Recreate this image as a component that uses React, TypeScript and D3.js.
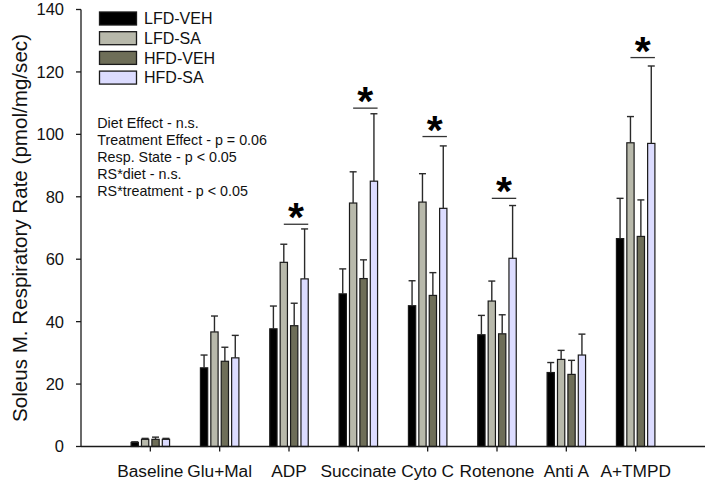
import React from "react";
import * as d3 from "d3";

const categories = ["Baseline", "Glu+Mal", "ADP", "Succinate", "Cyto C", "Rotenone", "Anti A", "A+TMPD"];
const seriesNames = ["LFD-VEH", "LFD-SA", "HFD-VEH", "HFD-SA"];
const seriesColors = ["#000000", "#b8b9ab", "#6e6e58", "#dcdcff"];

const lfdVeh = [1.3, 25.2, 37.7, 48.9, 45.1, 35.8, 23.7, 66.6];
const lfdVehErr = [1.5, 29.3, 45.0, 56.9, 53.1, 42.0, 26.9, 79.5];
const lfdSa = [2.3, 36.7, 59.0, 78.0, 78.3, 46.6, 27.9, 97.3];
const lfdSaErr = [2.6, 41.8, 64.8, 88.0, 87.4, 53.0, 30.8, 105.7];
const hfdVeh = [2.3, 27.3, 38.7, 53.8, 48.4, 36.1, 23.1, 67.3];
const hfdVehErr = [3.0, 31.8, 45.9, 59.8, 55.7, 42.2, 27.6, 79.0];
const hfdSa = [2.3, 28.4, 53.7, 85.0, 76.3, 60.3, 29.3, 97.1];
const hfdSaErr = [2.6, 35.6, 69.7, 106.6, 96.3, 77.2, 36.0, 121.9];

const starCategories = ["ADP", "Succinate", "Cyto C", "Rotenone", "A+TMPD"];
const starLevels = [71.2, 108.4, 99.3, 79.5, 124.6];

const yTicks = [0, 20, 40, 60, 80, 100, 120, 140];
const statsLines = [
  "Diet Effect - n.s.",
  "Treatment Effect - p = 0.06",
  "Resp. State - p < 0.05",
  "RS*diet - n.s.",
  "RS*treatment - p < 0.05",
];

const seriesValues = [lfdVeh, lfdSa, hfdVeh, hfdSa];
const seriesErrs = [lfdVehErr, lfdSaErr, hfdVehErr, hfdSaErr];

const W = 709;
const H = 484;
const FONT = "Liberation Sans, Arial, Helvetica, sans-serif";

export default function App() {
  const x = d3.scaleLinear().domain([0, categories.length + 1]).range([81, 705]);
  const y = d3.scaleLinear().domain([0, 140]).range([446.5, 9.5]);
  const pitch = 0.15;
  const bw = 0.105;
  const off = (i: number) => (i - 1.5) * pitch;
  const capHalf = 3.5;

  return (
    <svg width={W} height={H} style={{ position: "absolute", left: 0, top: 0, background: "#fff" }} fontFamily={FONT}>
      {/* bars */}
      {seriesValues.map((vals, s) =>
        vals.map((v, c) => {
          const cx = c + 1 + off(s);
          const x0 = x(cx - bw / 2);
          const x1 = x(cx + bw / 2);
          return (
            <rect key={`b${s}-${c}`} x={x0} y={y(v)} width={x1 - x0} height={y(0) - y(v)}
              fill={seriesColors[s]} stroke="#1a1a1a" strokeWidth={1.2} />
          );
        })
      )}
      {/* error bars */}
      {seriesErrs.map((errs, s) =>
        errs.map((e, c) => {
          const px = x(c + 1 + off(s));
          return (
            <g key={`e${s}-${c}`} stroke="#2a2a2a" strokeWidth={1.4}>
              <line x1={px} x2={px} y1={y(seriesValues[s][c])} y2={y(e)} />
              <line x1={px - capHalf} x2={px + capHalf} y1={y(e)} y2={y(e)} />
            </g>
          );
        })
      )}
      {/* significance */}
      {starCategories.map((cat, k) => {
        const c = categories.indexOf(cat) + 1;
        const xa = x(c + off(1));
        const xb = x(c + off(3) + bw / 2);
        const ly = y(starLevels[k]);
        return (
          <g key={`s${k}`}>
            <line x1={xa} x2={xb} y1={ly} y2={ly} stroke="#333" strokeWidth={1.3} />
            <text x={(xa + xb) / 2} y={ly + 7} textAnchor="middle" fontSize={41} fontWeight="bold" fill="#000">*</text>
          </g>
        );
      })}
      {/* axes */}
      <line x1={x(0)} x2={x(0)} y1={y(140)} y2={y(0)} stroke="#1a1a1a" strokeWidth={1.3} />
      <line x1={x(0)} x2={x(categories.length + 1)} y1={y(0)} y2={y(0)} stroke="#1a1a1a" strokeWidth={1.3} />
      {yTicks.map((t) => (
        <g key={`yt${t}`}>
          <line x1={x(0) - 5} x2={x(0)} y1={y(t)} y2={y(t)} stroke="#1a1a1a" strokeWidth={1.3} />
          <text x={x(0) - 17} y={y(t)} dy="0.36em" textAnchor="end" fontSize={16.5} fill="#111">{t}</text>
        </g>
      ))}
      {categories.map((c, i) => (
        <g key={`xt${i}`}>
          <line x1={x(i + 1)} x2={x(i + 1)} y1={y(0)} y2={y(0) + 5} stroke="#1a1a1a" strokeWidth={1.3} />
          <text x={x(i + 1)} y={477} textAnchor="middle" fontSize={17.3} fill="#111">{c}</text>
        </g>
      ))}
      <text transform="translate(27,228) rotate(-90)" textAnchor="middle" fontSize={20.6} fill="#111">
        Soleus M. Respiratory Rate (pmol/mg/sec)
      </text>
      {/* legend */}
      {seriesNames.map((n, i) => (
        <g key={`lg${i}`} transform={`translate(99.5, ${12 + i * 19.7})`}>
          <rect x={0} y={0} width={37} height={13} fill={seriesColors[i]} stroke="#1a1a1a" strokeWidth={1.3} />
          <text x={44.5} y={6.5} dy="0.36em" fontSize={16} fill="#111">{n}</text>
        </g>
      ))}
      {/* stats */}
      {statsLines.map((l, i) => (
        <text key={`st${i}`} x={97.3} y={128.3 + i * 16.85} fontSize={14.3} fill="#111">{l}</text>
      ))}
    </svg>
  );
}
